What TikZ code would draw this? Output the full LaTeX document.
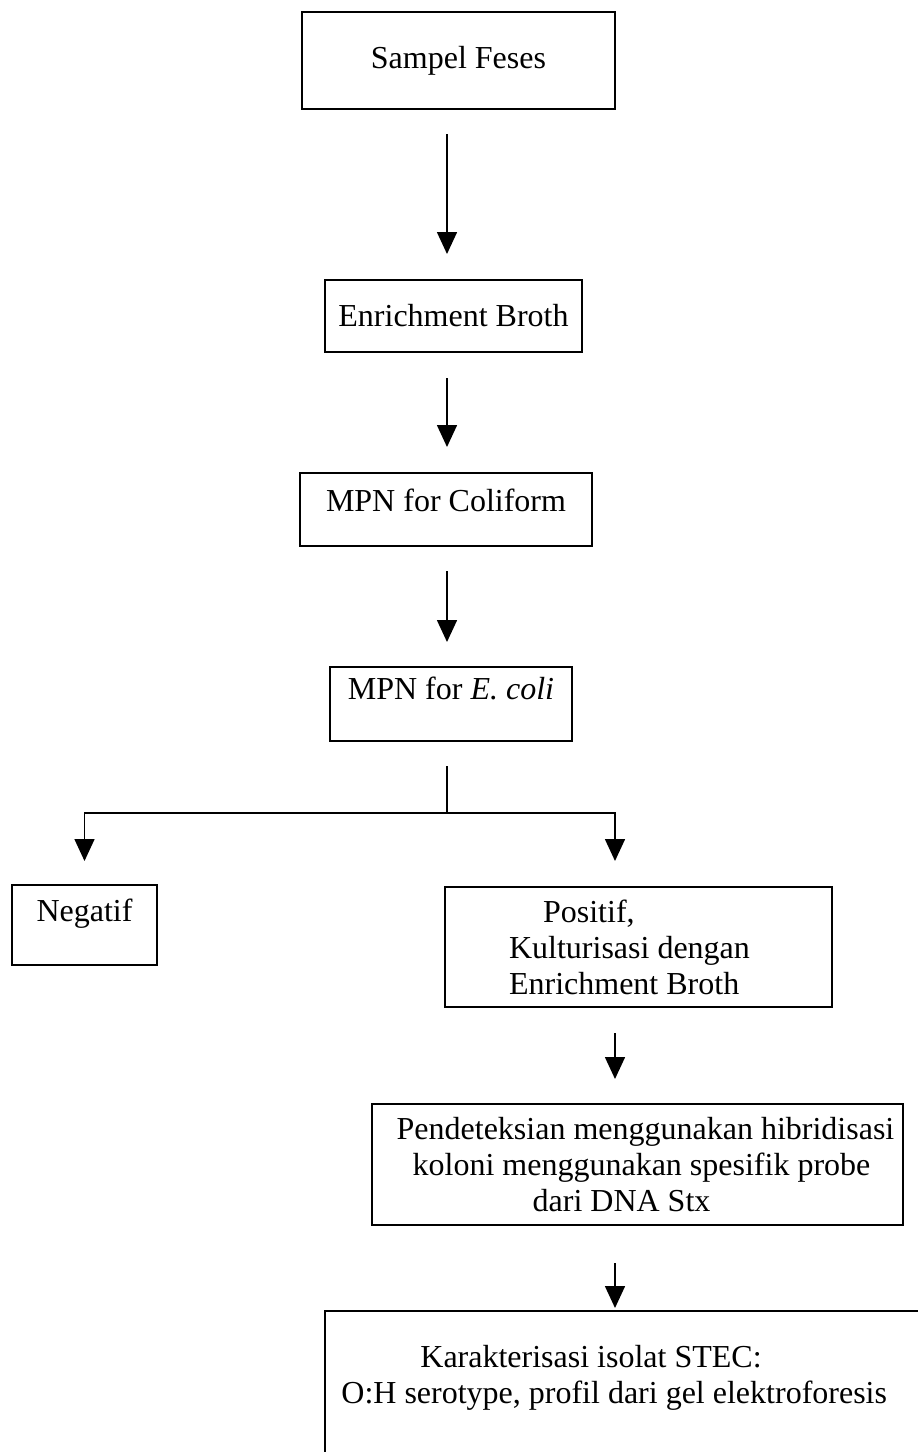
\documentclass[tikz,border=0pt]{standalone}
\usepackage{fontspec}
\setmainfont{Liberation Serif}
\usetikzlibrary{arrows.meta}

\tikzset{
	box/.style={draw, line width=1pt, inner sep=0pt, font=\fontsize{16}{18}\selectfont},
	flow/.style={black, line width=0.8pt, -{Triangle[length=11pt, width=10pt]}},
	link/.style={black, line width=0.8pt},
}

\begin{document}
\begin{tikzpicture}[x=0.5pt, y=-0.5pt]
	        \useasboundingbox (0, 0) rectangle (917, 1452);
	        \coordinate (midcol) at (447, 0);
	        \coordinate (rightcol) at (615, 0);
	        \coordinate (fork) at (447, 813);

	        \node [box, minimum width=156.5pt, minimum height=48.5pt] at (458.5, 60.5) (sampel) {Sampel Feses};
	        \node [box, minimum width=128.5pt, minimum height=36pt] at (453.5, 316) (enrich) {Enrichment Broth};
	        \node [box, minimum width=146pt, minimum height=36.5pt, text height=11pt, text depth=9.5pt] at (446, 509.5) (coliform) {MPN for Coliform};
	        \node [box, minimum width=121pt, minimum height=37pt, text height=11pt, text depth=16pt] at (451, 704) (ecoli) {MPN for \textit{E. coli}};
	        \node [box, minimum width=72.5pt, minimum height=40pt, text height=11pt, text depth=15pt] at (84.5, 925) (negatif) {Negatif};
	        \node [box, minimum width=193.5pt, minimum height=60pt, align=left] at (638.5, 947) (positif) {\hspace*{17pt}Positif,\\Kulturisasi dengan\rule{9pt}{0pt}\\Enrichment Broth};
	        \node [box, minimum width=265.5pt, minimum height=60.5pt, align=left] at (637.5, 1164.5) (deteksi) {\hspace*{8pt}Pendeteksian menggunakan hibridisasi\\\hspace*{16pt}koloni menggunakan spesifik probe\\\hspace*{76pt}dari DNA Stx};
	        \node [box, anchor=north west, minimum width=400pt, minimum height=150pt] at (324, 1310) (karakter) {};
	        \node [inner sep=0pt, anchor=north west, align=left, font=\fontsize{16}{18}\selectfont] at (341, 1345) (karaktertext) {\hspace*{39.5pt}Karakterisasi isolat STEC:\\O:H serotype, profil dari gel elektroforesis};

	        \draw [flow, shorten <=12pt, shorten >=12.5pt] (sampel.south -| midcol) -- (enrich.north -| midcol);
	        \draw [flow, shorten <=12.5pt, shorten >=12.5pt] (enrich.south -| midcol) -- (coliform.north -| midcol);
	        \draw [flow, shorten <=12pt, shorten >=12pt] (coliform.south -| midcol) -- (ecoli.north -| midcol);
	        \draw [link, shorten <=12pt] (ecoli.south -| midcol) -- (fork);
	        \draw [flow, shorten >=11.5pt] (fork) -| (negatif.north);
	        \draw [flow, shorten >=12.5pt] (fork) -| (positif.north -| rightcol);
	        \draw [flow, shorten <=12.5pt, shorten >=12pt] (positif.south -| rightcol) -- (deteksi.north -| rightcol);
	        \draw [flow, shorten <=18.5pt, shorten >=1pt] (deteksi.south -| rightcol) -- (karakter.north -| rightcol);
        \end{tikzpicture}
\end{document}
